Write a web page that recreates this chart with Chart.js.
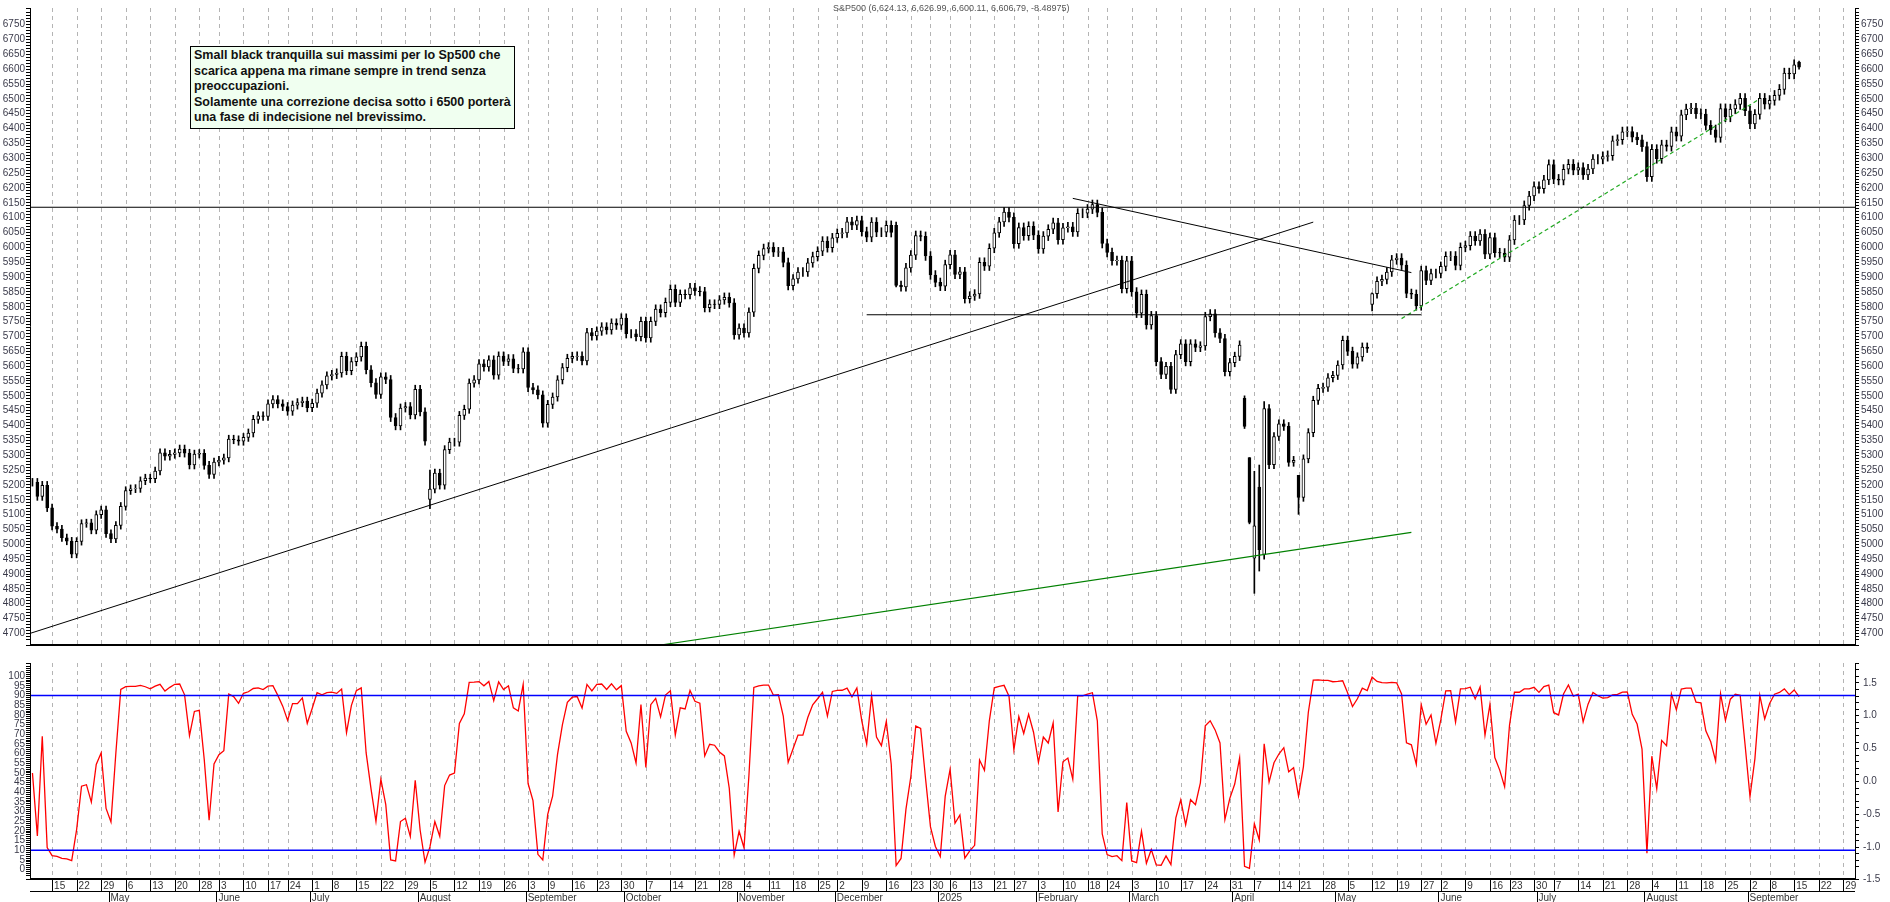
<!DOCTYPE html>
<html>
<head>
<meta charset="utf-8">
<script src="https://cdn.jsdelivr.net/npm/chart.js@4.4.1/dist/chart.umd.min.js"></script>
<style>
  body { margin: 0; background: #fff; width: 1890px; height: 902px; position: relative; overflow: hidden; font-family: "Liberation Sans", Arial, sans-serif; }
  canvas { position: absolute; left: 0; }
  #title { position: absolute; left: 833px; top: 3px; font-size: 9px; color: #555; }
  #note { position: absolute; left: 190px; top: 46px; padding: 1px 3px 2px 3px; background: #f0fff0; border: 1.5px solid #000;
          font-weight: bold; font-size: 12.5px; line-height: 15.5px; white-space: pre; color: #111; }
</style>
</head>
<body>
<canvas id="top" width="1890" height="653" style="top:0"></canvas>
<canvas id="bot" width="1890" height="249" style="top:653px"></canvas>
<div id="title">S&amp;P500 (6,624.13, 6,626.99, 6,600.11, 6,606.79, -8.48975)</div>
<div id="note">Small black tranquilla sui massimi per lo Sp500 che
scarica appena ma rimane sempre in trend senza
preoccupazioni.
Solamente una correzione decisa sotto i 6500 porterà
una fase di indecisione nel brevissimo.</div>
<script>
// daily closes from 2024-04-09 to 2025-09-16, one per trading day
const closes = [
  // Apr 2024
  5209,5161,5199,5123,5061,5051,5022,5011,4967,5010,5070,5072,5048,5100,5116,5036,
  // May
  5018,5064,5128,5181,5187,5188,5214,5223,5221,5247,5308,5297,5303,5308,5321,5307,5267,5304,5306,5266,5235,5277,
  // Jun
  5283,5291,5354,5352,5347,5360,5375,5421,5433,5431,5473,5487,5473,5464,5448,5469,5477,5482,5460,
  // Jul
  5475,5509,5537,5567,5572,5577,5633,5585,5615,5631,5667,5588,5544,5505,5564,5555,5427,5399,5459,5464,5436,5522,
  // Aug
  5446,5347,5186,5240,5199,5319,5344,5344,5434,5455,5543,5554,5608,5597,5621,5570,5634,5616,5625,5592,5591,5648,
  // Sep
  5528,5520,5503,5408,5471,5496,5554,5595,5626,5633,5634,5618,5713,5702,5718,5732,5722,5745,5738,5762,
  // Oct
  5709,5709,5699,5751,5695,5751,5792,5780,5815,5859,5815,5842,5841,5864,5853,5851,5797,5809,5808,5823,5832,5813,5705,
  // Nov
  5728,5712,5782,5929,5973,5996,6001,5984,5985,5949,5871,5894,5917,5917,5948,5969,5987,6021,5999,6032,
  // Dec
  6047,6049,6086,6075,6090,6053,6034,6085,6051,6051,6074,6050,5872,5867,5931,5974,6040,6037,5971,5907,5882,
  // Jan 2025
  5869,5942,5975,5909,5918,5827,5836,5843,5950,5937,5997,6049,6086,6119,6101,6012,6067,6039,6071,6041,
  // Feb
  5995,6038,6061,6083,6026,6066,6069,6052,6115,6115,6129,6144,6118,6013,5983,5955,5956,5861,5955,
  // Mar
  5850,5778,5842,5739,5770,5615,5572,5599,5522,5639,5675,5615,5675,5663,5668,5767,5776,5712,5693,5581,5612,
  // Apr
  5633,5671,5397,5074,5062,4982,5457,5268,5363,5406,5397,5276,5283,5158,5288,5376,5485,5525,5529,5561,5569,
  // May
  5604,5687,5650,5607,5631,5664,5660,5844,5886,5892,5917,5958,5964,5940,5845,5842,5803,5922,5889,5912,5912,
  // Jun
  5936,5970,5971,5939,6000,6006,6038,6022,6045,5977,6033,5982,5981,5967,6025,6092,6092,6141,6173,6205,
  // Jul
  6198,6227,6279,6230,6226,6263,6280,6260,6269,6244,6264,6297,6297,6306,6309,6359,6363,6389,6390,6371,6362,6339,
  // Aug
  6238,6330,6299,6345,6340,6389,6374,6446,6466,6469,6450,6449,6411,6396,6370,6467,6439,6466,6481,6502,6460,
  // Sep
  6416,6448,6502,6482,6495,6512,6532,6587,6584,6615,6607
];
// days whose open/high/low stand out on the chart
const specialDays = {
  '2024-08-05': { o: 5151, h: 5250, l: 5120 },
  '2024-12-18': { o: 6074, h: 6085, l: 5867 },
  '2025-04-03': { o: 5492, h: 5500, l: 5390 },
  '2025-04-04': { o: 5292, h: 5292, l: 5069 },
  '2025-04-07': { o: 4953, h: 5246, l: 4835 },
  '2025-04-08': { o: 5193, h: 5267, l: 4910 },
  '2025-04-09': { o: 4966, h: 5481, l: 4950 },
  '2025-04-21': { o: 5232, h: 5232, l: 5101 },
  '2025-05-12': { o: 5808, h: 5847, l: 5786 },
  '2025-09-16': { o: 6624, h: 6627, l: 6600 }
};
const holidays = ['2024-05-27','2024-06-19','2024-07-04','2024-09-02','2024-11-28','2024-12-25',
  '2025-01-01','2025-01-09','2025-01-20','2025-02-17','2025-04-18','2025-05-26','2025-06-19','2025-07-04','2025-09-01'];
const monthNames = ['2025','February','March','April','May','June','July','August','September','October','November','December'];
const priceTicks = { min: 4661, max: 6806, step: 50 };
// trend lines: [x index, value]
const hLine6135 = [[-1, 6135], [372, 6135]];
const hLine5773 = [[170, 5773], [283, 5773]];
const riseLine = [[-0.5, 4700], [261, 6085]];
const fallLine = [[212, 6165], [281, 5915]];
const greenLine = [[128, 4661], [281, 5040]];
const greenDash = [[279, 5760], [352, 6500]];
const oscLevels = [90, 10];

// trading calendar
const days = [];
{
  const d = new Date(Date.UTC(2024, 3, 9));
  const end = new Date(Date.UTC(2025, 8, 30));
  while (d <= end) {
    const s = d.toISOString().slice(0, 10);
    const wd = d.getUTCDay();
    if (wd !== 0 && wd !== 6 && !holidays.includes(s)) days.push(s);
    d.setUTCDate(d.getUTCDate() + 1);
  }
}

const opens = [], highs = [], lows = [];
closes.forEach((c, i) => {
  const sp = specialDays[days[i]];
  const o = sp ? sp.o : (i ? closes[i - 1] : c);
  opens.push(o);
  highs.push(sp ? sp.h : Math.max(o, c) + c * 0.0025);
  lows.push(sp ? sp.l : Math.min(o, c) - c * 0.0025);
});

// stochastic %K(14)
const stoch = closes.map((c, i) => {
  const a = Math.max(0, i - 13);
  const hh = Math.max(...highs.slice(a, i + 1)), ll = Math.min(...lows.slice(a, i + 1));
  return hh === ll ? 50 : (c - ll) / (hh - ll) * 100;
});

// week / month markers
const weekStarts = [], monthStarts = [];
days.forEach((s, i) => {
  if (i === 0) return;
  const d = new Date(s + 'T00:00:00Z'), p = new Date(days[i - 1] + 'T00:00:00Z');
  if (d.getUTCDay() <= p.getUTCDay() || (d - p) > 3 * 864e5) weekStarts.push(i);
  if (d.getUTCMonth() !== p.getUTCMonth()) monthStarts.push(i);
});

const X_MIN = -0.5, X_MAX = 371.4;
const PLOT_L = 30, PLOT_R = 1855;

function fixWidth(w) { return function(scale) { scale.width = w; }; }

const weekGrid = {
  id: 'weekGrid',
  beforeDatasetsDraw(chart) {
    const { ctx, chartArea: a } = chart;
    const x = chart.scales.x;
    ctx.save();
    ctx.strokeStyle = '#b4b4b4';
    ctx.lineWidth = 1;
    ctx.setLineDash([4, 4]);
    weekStarts.forEach(i => {
      const px = Math.round(x.getPixelForValue(i)) + 0.5;
      ctx.beginPath(); ctx.moveTo(px, a.top); ctx.lineTo(px, a.bottom); ctx.stroke();
    });
    ctx.restore();
  },
  afterDraw(chart) {
    const { ctx, chartArea: a } = chart;
    ctx.save();
    ctx.strokeStyle = '#000';
    ctx.lineWidth = 1;
    ctx.beginPath();
    ctx.moveTo(a.left + 0.5, a.top); ctx.lineTo(a.left + 0.5, a.bottom);
    ctx.moveTo(a.right + 0.5, a.top); ctx.lineTo(a.right + 0.5, a.bottom);
    ctx.stroke();
    ctx.lineWidth = 2;
    ctx.beginPath();
    ctx.moveTo(a.left, a.bottom); ctx.lineTo(a.right + 1, a.bottom);
    ctx.stroke();
    ctx.restore();
  }
};

const dateAxis = {
  id: 'dateAxis',
  afterDraw(chart) {
    const { ctx, chartArea: a } = chart;
    const x = chart.scales.x;
    const r1 = a.bottom, r2 = a.bottom + 12, r3 = a.bottom + 24;
    ctx.save();
    ctx.strokeStyle = '#000';
    ctx.lineWidth = 1;
    ctx.beginPath();
    ctx.moveTo(a.left, r2 + 0.5); ctx.lineTo(a.right, r2 + 0.5);
    weekStarts.forEach(i => {
      const px = Math.round(x.getPixelForValue(i)) + 0.5;
      ctx.moveTo(px, r1); ctx.lineTo(px, r2);
    });
    monthStarts.forEach(i => {
      const px = Math.round(x.getPixelForValue(i - 0.5)) + 0.5;
      ctx.moveTo(px, r2); ctx.lineTo(px, r3);
    });
    ctx.stroke();
    ctx.fillStyle = '#333';
    ctx.font = '10px "Liberation Sans", Arial';
    ctx.textBaseline = 'middle';
    weekStarts.forEach(i => {
      const px = x.getPixelForValue(i);
      if (px > a.right - 6) return;
      ctx.fillText(String(+days[i].slice(8)), px + 2, r1 + 7);
    });
    monthStarts.forEach(i => {
      const px = x.getPixelForValue(i - 0.5);
      if (px > a.right - 10) return;
      ctx.fillText(monthNames[+days[i].slice(5, 7) - 1], px + 2, r2 + 7);
    });
    ctx.restore();
  }
};

const lineDs = (pts, color, dash, w) => ({
  type: 'line',
  data: pts.map(p => ({ x: p[0], y: p[1] })),
  borderColor: color, borderWidth: w || 1, borderDash: dash || [],
  pointRadius: 0, fill: false, tension: 0
});

const tickFont = { size: 10, family: '"Liberation Sans", Arial' };

new Chart(document.getElementById('top'), {
  type: 'bar',
  data: {
    datasets: [
      {
        data: closes.map((c, i) => ({ x: i, y: [lows[i], highs[i]] })),
        backgroundColor: '#000', barThickness: 1, grouped: false, order: 2
      },
      {
        data: closes.map((c, i) => ({ x: i, y: [opens[i], c] })),
        backgroundColor: closes.map((c, i) => c >= opens[i] ? '#fff' : '#000'),
        borderColor: '#000', borderWidth: 1, borderSkipped: false,
        barThickness: 3, grouped: false, order: 1
      },
      lineDs(hLine6135, '#000', null, 1.2),
      lineDs(hLine5773, '#000', null, 1.2),
      lineDs(riseLine, '#000', null, 1),
      lineDs(fallLine, '#000', null, 1),
      lineDs(greenLine, '#008000', null, 1.2),
      lineDs(greenDash, '#22aa22', [4, 3], 1.2)
    ]
  },
  options: {
    responsive: false, devicePixelRatio: 1, animation: false,
    layout: { padding: 0 },
    plugins: { legend: { display: false }, tooltip: { enabled: false } },
    scales: {
      x: { type: 'linear', min: X_MIN, max: X_MAX, offset: false, display: false },
      y: {
        position: 'left', min: priceTicks.min, max: priceTicks.max, afterFit: fixWidth(PLOT_L),
        grid: { drawOnChartArea: false, tickLength: 4, color: '#000' }, border: { display: false },
        ticks: { stepSize: 10, autoSkip: false, color: '#3a3a4a', font: tickFont, padding: 1,
          callback: v => v % priceTicks.step === 0 ? v : '' }
      },
      yR: {
        position: 'right', min: priceTicks.min, max: priceTicks.max, afterFit: fixWidth(1890 - PLOT_R),
        grid: { drawOnChartArea: false, tickLength: 4, color: '#000' }, border: { display: false },
        ticks: { stepSize: 10, autoSkip: false, color: '#3a3a4a', font: tickFont, padding: 2,
          callback: v => v % priceTicks.step === 0 ? v : '' }
      }
    }
  },
  plugins: [weekGrid]
});

new Chart(document.getElementById('bot'), {
  type: 'line',
  data: {
    datasets: [
      lineDs([[X_MIN, oscLevels[0]], [X_MAX, oscLevels[0]]], '#0000ff', null, 1.5),
      lineDs([[X_MIN, oscLevels[1]], [X_MAX, oscLevels[1]]], '#0000ff', null, 1.5),
      lineDs(stoch.map((v, i) => [i, v]), '#ff0000', null, 1.3)
    ]
  },
  options: {
    responsive: false, devicePixelRatio: 1, animation: false,
    layout: { padding: { top: 0, bottom: 23 } },
    plugins: { legend: { display: false }, tooltip: { enabled: false } },
    scales: {
      x: { type: 'linear', min: X_MIN, max: X_MAX, display: false },
      y: {
        position: 'left', min: -4.8, max: 106.8, afterFit: fixWidth(PLOT_L),
        grid: { drawOnChartArea: false, tickLength: 4, color: '#000' }, border: { display: false },
        ticks: { stepSize: 1, autoSkip: false, color: '#3a3a4a', font: tickFont, padding: 1,
          callback: v => (v % 5 === 0 && v >= 0 && v <= 100) ? v : '' }
      },
      yR: {
        position: 'right', min: -1.483, max: 1.802, afterFit: fixWidth(1890 - PLOT_R),
        grid: { drawOnChartArea: false, tickLength: 4, color: '#000' }, border: { display: false },
        ticks: { stepSize: 0.1, autoSkip: false, color: '#3a3a4a', font: tickFont, padding: 4,
          callback: v => { const r = Math.round(v * 10); return r % 5 === 0 ? (r / 10).toFixed(1) : ''; } }
      }
    }
  },
  plugins: [weekGrid, dateAxis]
});
</script>
</body>
</html>
